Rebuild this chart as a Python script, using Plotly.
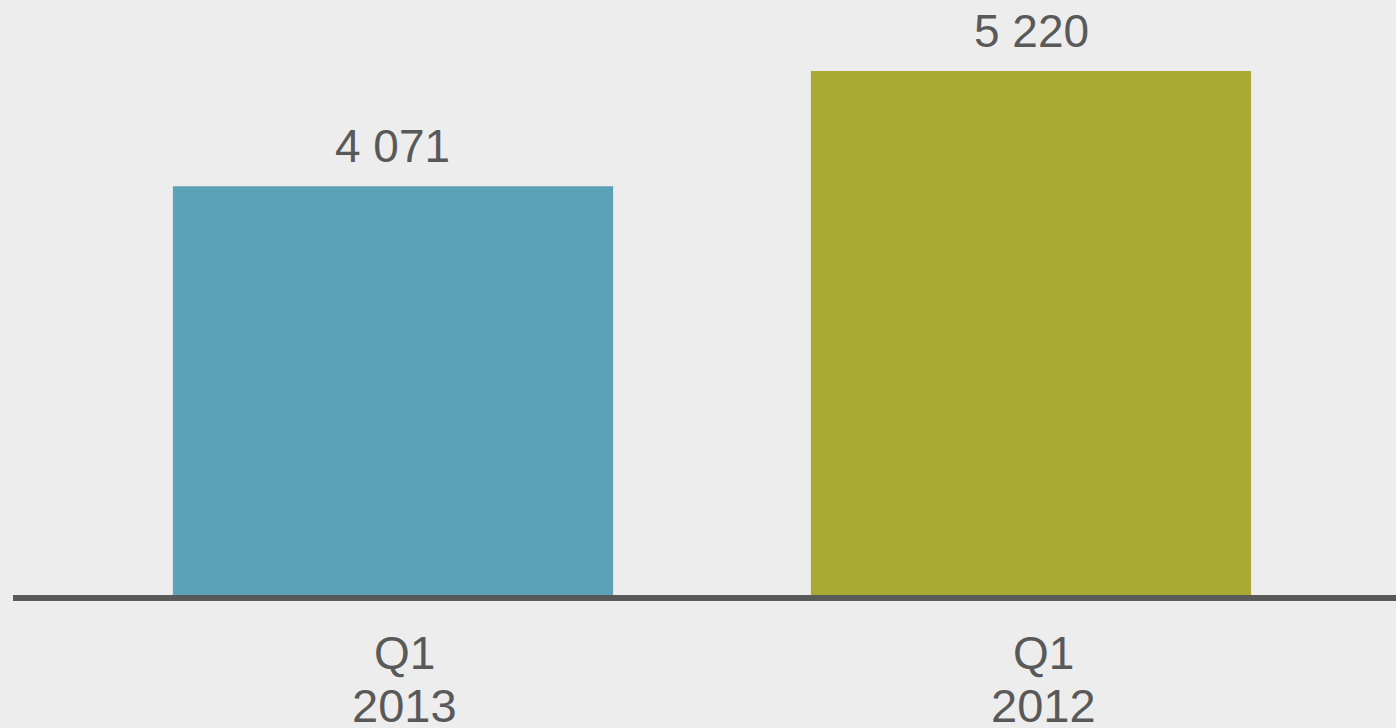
import plotly.graph_objects as go

categories = ["Q1 2013", "Q1 2012"]
quarter_labels = ["Q1", "Q1"]
year_labels = ["2013", "2012"]
values = [4071, 5220]
value_labels = ["4 071", "5 220"]
bar_colors = ["#5DA1B6", "#A9AA33"]

TEXT = "#595959"
BG = "#EDEDED"

fig = go.Figure()
fig.add_trace(go.Bar(
    x=categories,
    y=values,
    width=0.69,
    marker=dict(color=bar_colors, line=dict(width=0)),
    hoverinfo="skip",
))

# value labels above bars
for cat, val, lab in zip(categories, values, value_labels):
    fig.add_annotation(x=cat, y=val, text=lab, showarrow=False,
                       yanchor="bottom", yshift=12,
                       font=dict(size=46, color=TEXT))

# two-line category labels under the axis (sit a bit right of bar centre)
for cat, q, yr in zip(categories, quarter_labels, year_labels):
    fig.add_annotation(x=cat, y=0, yref="paper", text=q, showarrow=False,
                       yanchor="top", yshift=-30, xshift=12,
                       font=dict(size=46, color=TEXT))
    fig.add_annotation(x=cat, y=0, yref="paper", text=yr, showarrow=False,
                       yanchor="top", yshift=-82, xshift=12,
                       font=dict(size=47, color=TEXT))

fig.update_layout(
    width=1396, height=728,
    margin=dict(l=13, r=0, t=0, b=133),
    paper_bgcolor=BG, plot_bgcolor=BG,
    showlegend=False,
    font=dict(family="Liberation Sans, Arial, sans-serif", color=TEXT),
)
fig.update_xaxes(
    type="category",
    range=[-0.5956, 1.5721],
    showticklabels=False,
    showline=True, linecolor="#595959", linewidth=6,
    showgrid=False, ticks="", zeroline=False,
)
fig.update_yaxes(range=[0, 5927], visible=False, showgrid=False, zeroline=False)

fig.write_html("out.html", config={"displayModeBar": False},
               post_script="document.body.style.margin='0';")
